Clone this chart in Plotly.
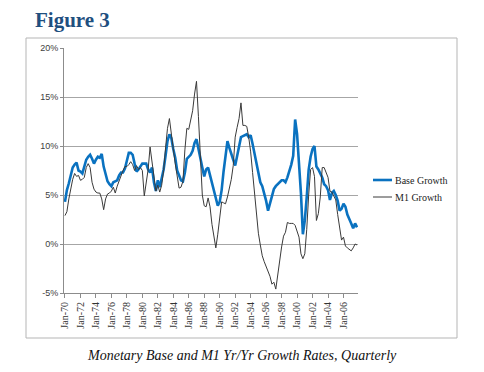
import plotly.graph_objects as go

years = list(range(1970, 2008))
months = ["Jan", "Apr", "Jul", "Oct"]
quarters = [f"{m}-{str(y)[2:]}" for y in years for m in months]

base_growth = [
    4.3, 5.5, 6.2, 7.0,   7.8, 8.1, 8.3, 7.5,   7.4, 7.2, 7.9, 8.6,   8.9, 9.1, 8.7, 8.2,
    8.6, 8.9, 8.8, 9.2,   7.9, 7.2, 6.4, 6.1,   5.9, 6.3, 6.4, 6.5,   7.0, 7.3, 7.3, 7.7,
    8.5, 9.3, 9.3, 9.1,   8.2, 7.4, 7.6, 7.9,   8.2, 8.2, 8.2, 7.6,   7.3, 7.8, 6.3, 5.4,
    6.5, 5.8, 6.6, 7.6,   9.0, 10.5, 11.2, 10.8, 9.7, 8.8, 7.5, 6.9,  6.5, 6.4, 7.3, 8.7,
    8.9, 9.1, 9.5, 10.3,  10.7, 9.6, 8.7, 7.8,  6.9, 7.6, 7.8, 7.0,   6.3, 5.6, 4.6, 3.9,
    4.3, 5.5, 7.4, 9.0,   10.5, 9.8, 9.1, 8.6,  8.0, 8.9, 9.8, 10.9,  11.0, 11.1, 11.2, 10.9,
    11.1, 10.2, 9.3, 8.3, 7.2, 6.3, 5.9, 5.2,   4.4, 3.4, 4.1, 4.7,   5.6, 5.9, 6.1, 6.4,
    6.5, 6.5, 6.3, 6.8,   7.4, 8.1, 9.0, 12.7,  11.2, 8.5, 5.2, 1.0,  2.4, 4.8, 7.6, 8.9,
    9.7, 10.0, 7.9, 7.6,  7.2, 6.8, 6.1, 5.9,   5.5, 4.5, 5.2, 5.4,   5.0, 4.4, 3.4, 3.6,
    4.1, 3.8, 3.0, 2.6,   2.1, 1.6, 2.1, 1.7,
]

m1_growth = [
    2.9, 3.3, 4.6, 5.8,   6.6, 7.2, 6.9, 7.0,   6.5, 6.6, 6.8, 7.8,   8.2, 7.8, 6.3, 5.6,
    5.3, 5.2, 5.2, 4.6,   3.5, 4.6, 5.1, 5.2,   5.4, 5.8, 5.2, 5.9,   6.5, 7.1, 7.5, 7.9,
    7.9, 8.1, 8.4, 8.1,   7.5, 8.0, 7.6, 7.8,   7.5, 4.9, 6.3, 7.6,   9.9, 8.2, 6.5, 5.4,
    6.0, 5.3, 6.0, 7.5,   9.8, 11.8, 12.8, 11.0, 9.7, 8.2, 6.8, 5.7,  5.8, 6.4, 9.6, 11.8,
    11.7, 12.7, 13.6, 15.3, 16.6, 13.0, 9.5, 5.0, 3.9, 3.8, 4.7, 3.8,  2.0, 0.9, -0.4, 1.0,
    2.9, 4.3, 4.2, 4.1,   4.8, 5.7, 6.6, 8.0,   10.9, 11.9, 12.8, 14.4, 12.1, 12.1, 12.0, 10.9,
    9.4, 7.3, 5.0, 2.6,   1.1, -0.1, -1.2, -1.8, -2.3, -2.6, -3.3, -4.1, -3.9, -4.6, -3.1, -1.7,
    -0.3, 0.8, 1.2, 2.2,  2.1, 2.1, 2.1, 1.9,   1.3, 0.7, -1.0, -1.5,  -1.0, 1.5, 5.0, 7.6,
    7.8, 6.9, 2.4, 3.1,   4.8, 7.8, 7.8, 7.2,   6.8, 5.4, 5.3, 4.9,   4.5, 3.0, 1.7, 0.4,
    0.7, -0.2, -0.4, -0.6, -0.7, -0.4, 0.0, -0.1,
]

y_ticks = [-5, 0, 5, 10, 15, 20]
x_tick_labels = [q for q in quarters if q.startswith("Jan") and int(q[-2:]) % 2 == 0]

W, H = 484, 372
def px(x):
    return x / W
def py(y):
    return 1 - y / H

fig = go.Figure()
fig.add_trace(go.Scatter(x=quarters, y=base_growth, mode="lines", name="Base Growth",
                         line=dict(color="#0a72c0", width=2.6), showlegend=False))
fig.add_trace(go.Scatter(x=quarters, y=m1_growth, mode="lines", name="M1 Growth",
                         line=dict(color="#3a3a3a", width=1), showlegend=False))

fig.update_layout(
    width=W, height=H,
    margin=dict(l=0, r=0, t=0, b=0),
    paper_bgcolor="white", plot_bgcolor="white",
    xaxis=dict(
        domain=[px(64), px(358)],
        type="category",
        range=[-0.5, len(quarters) - 0.5],
        tickmode="array", tickvals=x_tick_labels, ticktext=x_tick_labels,
        tickangle=-90, ticks="outside", ticklen=4, tickcolor="#8c8c8c",
        showgrid=False, showline=True, linecolor="#8c8c8c", linewidth=1,
        tickfont=dict(family="Liberation Serif", size=10, color="#333333"),
        anchor="y", automargin=False,
    ),
    yaxis=dict(
        domain=[py(293), py(48)],
        range=[-5, 20],
        tickmode="array", tickvals=y_ticks, ticktext=[f"{v}%" for v in y_ticks],
        ticks="outside", ticklen=3, tickcolor="#8c8c8c",
        showgrid=True, gridcolor="#a6a6a6", gridwidth=1,
        zeroline=True, zerolinecolor="#a6a6a6", zerolinewidth=1,
        showline=True, linecolor="#8c8c8c", linewidth=1,
        tickfont=dict(family="Liberation Sans", size=9, color="#404040"),
        automargin=False,
    ),
    shapes=[
        dict(type="rect", xref="paper", yref="paper", x0=px(26), x1=px(457), y0=py(338), y1=py(38),
             line=dict(color="#b5b5b5", width=1), fillcolor="rgba(0,0,0,0)", layer="below"),
        dict(type="line", xref="paper", yref="paper", x0=px(373), x1=px(392), y0=py(180), y1=py(180),
             line=dict(color="#0a72c0", width=2.6)),
        dict(type="line", xref="paper", yref="paper", x0=px(373), x1=px(392), y0=py(197), y1=py(197),
             line=dict(color="#3a3a3a", width=1)),
    ],
    annotations=[
        dict(text="<b>Figure 3</b>", xref="paper", yref="paper", x=px(33), y=py(20),
             xanchor="left", yanchor="middle", showarrow=False,
             font=dict(family="Liberation Serif", size=21, color="#1f4f7f")),
        dict(text="Base Growth", xref="paper", yref="paper", x=px(393), y=py(180),
             xanchor="left", yanchor="middle", showarrow=False,
             font=dict(family="Liberation Serif", size=10, color="#222222")),
        dict(text="M1 Growth", xref="paper", yref="paper", x=px(393), y=py(197),
             xanchor="left", yanchor="middle", showarrow=False,
             font=dict(family="Liberation Serif", size=10, color="#222222")),
        dict(text="<i>Monetary Base and M1 Yr/Yr Growth Rates, Quarterly</i>", xref="paper", yref="paper",
             x=px(242), y=py(355), xanchor="center", yanchor="middle", showarrow=False,
             font=dict(family="Liberation Serif", size=14, color="#111111")),
    ],
)

fig.write_html("out.html", config={"displayModeBar": False},
               post_script="document.body.style.margin='0';")
